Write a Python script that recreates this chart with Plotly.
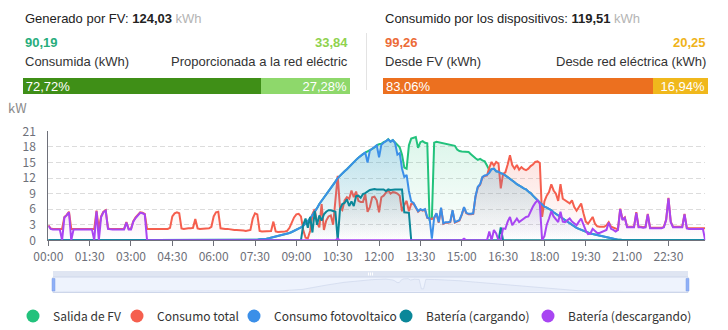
import plotly.graph_objects as go

W, H = 728, 330
HEAD_FONT = "Arial, Liberation Sans, sans-serif"
CHART_FONT = "Microsoft YaHei, Noto Sans CJK SC, sans-serif"


def px(x):
    return x / W


def py(y):
    return 1 - y / H


# ---- header totals (kWh) ----
pv_generated = 124.03
pv_consumed = 90.19
pv_to_grid = 33.84
load_total = 119.51
load_from_pv = 99.26
load_from_grid = 20.25

# ---- time axis: 5-minute samples, 00:00 .. 23:50 ----
times = [f"{m // 60:02d}:{m % 60:02d}" for m in range(0, 24 * 60 - 5, 5)]
tick_labels = ["00:00", "01:30", "03:00", "04:30", "06:00", "07:30", "09:00", "10:30",
               "12:00", "13:30", "15:00", "16:30", "18:00", "19:30", "21:00", "22:30"]

series_names = ["Salida de FV", "Consumo total", "Consumo fotovoltaico",
                "Batería (cargando)", "Batería (descargando)"]

# ---- power series (kW), one row per hour ----
pv_output = [
    0, 0, 0, 0, 0, 0, 0, 0, 0, 0, 0, 0,
    0, 0, 0, 0, 0, 0, 0, 0, 0, 0, 0, 0,
    0, 0, 0, 0, 0, 0, 0, 0, 0, 0, 0, 0,
    0, 0, 0, 0, 0, 0, 0, 0, 0, 0, 0, 0,
    0, 0, 0, 0, 0, 0, 0, 0, 0, 0, 0, 0,
    0, 0, 0, 0, 0, 0, 0, 0, 0, 0, 0, 0,
    0, 0, 0, 0, 0, 0, 0, 0, 0, 0, 0, 0,
    0, 0, 0, 0, 0, 0, 0, 0.1, 0.2, 0.2, 0.3, 0.3,
    0.4, 0.5, 0.6, 0.8, 0.9, 1.0, 1.1, 1.2, 1.3, 1.4, 1.6, 1.8,
    2.1, 2.3, 2.5, 2.8, 3.2, 3.7, 4.2, 4.8, 5.4, 6.2, 7.0, 7.6,
    8.1, 8.7, 9.3, 9.9, 10.6, 11.3, 12.0, 12.5, 12.9, 13.3, 13.7, 14.2,
    14.6, 15.0, 15.5, 15.9, 16.3, 16.6, 16.9, 17.1, 17.3, 17.6, 17.9, 18.3,
    18.5, 18.6, 18.9, 19.1, 19.5, 19.0, 19.3, 18.8, 18.5, 17.9, 16.5, 14.0,
    13.8, 18.3, 19.6, 19.8, 19.9, 17.8, 18.9, 19.1, 18.8, 18.7, 4.0, 4.2,
    18.8, 19.0, 18.9, 18.7, 18.6, 18.5, 18.4, 18.3, 18.2, 18.2, 17.5, 17.2,
    17.1, 17.1, 17.1, 17.0, 16.6, 16.1, 15.8, 15.5, 15.7, 15.4, 15.2, 14.4,
    13.5, 13.7, 13.8, 13.3, 13.2, 12.9, 12.8, 12.5, 12.2, 11.9, 11.6, 11.2,
    10.8, 10.6, 10.3, 10.0, 9.8, 9.4, 9.1, 8.6, 8.1, 7.7, 7.3, 6.9,
    6.5, 6.3, 6.1, 5.8, 5.4, 5.1, 4.8, 4.5, 4.2, 3.9, 3.5, 3.2,
    2.9, 2.6, 2.4, 2.2, 2.0, 1.8, 1.6, 1.4, 1.3, 1.2, 1.1, 1.0,
    0.9, 0.8, 0.6, 0.5, 0.4, 0.3, 0.2, 0.1, 0.1, 0.1, 0, 0,
    0, 0, 0, 0, 0, 0, 0, 0, 0, 0, 0, 0,
    0, 0, 0, 0, 0, 0, 0, 0, 0, 0, 0, 0,
    0, 0, 0, 0, 0, 0, 0, 0, 0, 0, 0,
]

total_load = [
    2.9, 2.3, 2.2, 2.2, 2.2, 2.2, 2.2, 4.5, 4.9, 5.5, 2.2, 2.2,
    2.2, 2.2, 2.2, 2.2, 2.2, 2.2, 2.2, 2.2, 2.2, 5.7, 2.2, 4.6,
    5.5, 5.8, 2.3, 2.2, 2.2, 2.2, 2.2, 2.2, 2.2, 2.2, 3.5, 2.2,
    2.2, 3.7, 4.4, 4.9, 5.4, 5.3, 5.1, 2.2, 2.2, 2.2, 2.2, 2.2,
    2.2, 2.2, 2.1, 2.1, 2.2, 2.4, 4.6, 5.2, 5.4, 5.2, 2.3, 2.2,
    2.3, 2.3, 2.3, 2.4, 4.1, 2.3, 2.2, 2.2, 2.2, 2.2, 2.3, 2.6,
    4.6, 5.4, 5.5, 2.3, 2.2, 2.2, 2.2, 2.1, 2.0, 2.0, 2.0, 2.0,
    1.9, 1.9, 1.8, 1.9, 2.0, 4.2, 5.2, 5.0, 1.8, 1.7, 1.7, 1.7,
    1.7, 1.8, 3.6, 1.7, 1.6, 1.6, 1.6, 1.7, 1.8, 2.4, 3.4, 4.4,
    5.0, 5.1, 4.6, 2.0, 0.5, 0.4, 1.8, 5.0, 6.0, 3.4, 2.5, 7.0,
    2.0, 3.8, 4.6, 4.8, 3.0, 7.5, 12.4, 6.2, 5.8, 7.7, 8.3, 8.0,
    9.6, 8.3, 9.4, 7.6, 7.4, 7.4, 8.9, 5.5, 6.4, 8.3, 8.4, 7.7,
    5.4, 8.3, 8.6, 9.2, 9.6, 9.0, 9.3, 9.2, 9.0, 8.6, 5.6, 6.8,
    7.6, 5.6, 7.0, 7.1, 6.3, 5.5, 5.9, 5.7, 5.9, 4.3, 4.2, 4.1,
    4.3, 5.1, 3.4, 6.2, 3.2, 3.4, 3.4, 3.5, 5.7, 3.4, 3.6, 3.8,
    4.9, 6.3, 5.2, 5.0, 5.0, 5.1, 8.4, 10.2, 10.7, 12.1, 12.4, 12.5,
    14.0, 15.1, 14.4, 15.1, 14.8, 10.0, 12.8, 13.1, 14.6, 16.4, 14.5, 13.8,
    14.5, 13.6, 14.1, 13.7, 13.5, 13.8, 14.3, 14.6, 15.1, 15.2, 14.9, 4.5,
    7.5, 8.6, 9.3, 10.8, 9.6, 9.0, 7.6, 10.8, 8.0, 7.7, 7.4, 7.1,
    7.7, 6.4, 5.7, 6.4, 7.1, 5.2, 3.6, 3.2, 4.0, 4.5, 3.2, 2.7,
    2.6, 2.6, 2.6, 2.9, 3.5, 2.6, 2.4, 2.3, 2.1, 6.1, 4.0, 4.4,
    2.6, 2.6, 2.6, 2.6, 5.4, 2.6, 2.6, 2.5, 2.6, 5.1, 2.4, 2.4,
    2.4, 2.4, 2.4, 2.4, 2.6, 4.0, 8.2, 3.6, 2.6, 2.6, 2.6, 2.6,
    2.6, 5.1, 2.4, 2.3, 2.3, 2.3, 2.3, 2.3, 2.3, 2.3, 2.3,
]

pv_self_use = [
    0, 0, 0, 0, 0, 0, 0, 0, 0, 0, 0, 0,
    0, 0, 0, 0, 0, 0, 0, 0, 0, 0, 0, 0,
    0, 0, 0, 0, 0, 0, 0, 0, 0, 0, 0, 0,
    0, 0, 0, 0, 0, 0, 0, 0, 0, 0, 0, 0,
    0, 0, 0, 0, 0, 0, 0, 0, 0, 0, 0, 0,
    0, 0, 0, 0, 0, 0, 0, 0, 0, 0, 0, 0,
    0, 0, 0, 0, 0, 0, 0, 0, 0, 0, 0, 0,
    0, 0, 0, 0, 0, 0, 0, 0.1, 0.2, 0.2, 0.3, 0.3,
    0.4, 0.5, 0.6, 0.8, 0.9, 1.0, 1.1, 1.2, 1.3, 1.4, 1.6, 1.8,
    2.1, 2.3, 2.5, 2.8, 3.2, 3.7, 4.2, 4.8, 5.4, 6.2, 7.0, 7.6,
    8.1, 8.7, 9.3, 9.9, 10.6, 11.3, 12.0, 12.5, 12.9, 13.3, 13.7, 14.2,
    14.6, 15.0, 15.5, 15.9, 16.3, 16.6, 16.9, 15.0, 17.3, 17.6, 17.9, 18.3,
    16.0, 18.4, 18.8, 19.1, 19.4, 19.0, 19.3, 18.7, 16.5, 16.8, 13.8, 12.2,
    12.6, 9.5, 7.5, 7.2, 6.4, 5.6, 6.0, 5.8, 6.0, 4.4, 4.2, 0.3,
    4.4, 5.2, 3.5, 6.3, 3.3, 3.5, 3.5, 3.6, 5.8, 3.5, 3.7, 3.9,
    5.0, 6.4, 5.3, 5.1, 5.1, 5.2, 8.5, 10.3, 10.8, 12.2, 12.5, 12.6,
    13.0, 13.7, 13.8, 13.3, 13.2, 12.9, 12.8, 12.5, 12.2, 11.9, 11.6, 11.2,
    10.8, 10.6, 10.3, 10.0, 9.8, 9.4, 9.1, 8.6, 8.1, 7.7, 7.3, 6.9,
    6.5, 6.3, 6.1, 5.8, 5.4, 5.1, 4.8, 4.5, 4.2, 3.9, 3.5, 3.2,
    2.9, 2.6, 2.4, 2.2, 2.0, 1.8, 1.6, 1.4, 1.3, 1.2, 1.1, 1.0,
    0.9, 0.8, 0.6, 0.5, 0.4, 0.3, 0.2, 0.1, 0.1, 0.1, 0, 0,
    0, 0, 0, 0, 0, 0, 0, 0, 0, 0, 0, 0,
    0, 0, 0, 0, 0, 0, 0, 0, 0, 0, 0, 0,
    0, 0, 0, 0, 0, 0, 0, 0, 0, 0, 0,
]

battery_charge = [
    0, 0, 0, 0, 0, 0, 0, 0, 0, 0, 0, 0,
    0, 0, 0, 0, 0, 0, 0, 0, 0, 0, 0, 0,
    0, 0, 0, 0, 0, 0, 0, 0, 0, 0, 0, 0,
    0, 0, 0, 0, 0, 0, 0, 0, 0, 0, 0, 0,
    0, 0, 0, 0, 0, 0, 0, 0, 0, 0, 0, 0,
    0, 0, 0, 0, 0, 0, 0, 0, 0, 0, 0, 0,
    0, 0, 0, 0, 0, 0, 0, 0, 0, 0, 0, 0,
    0, 0, 0, 0, 0, 0, 0, 0, 0, 0, 0, 0,
    0, 0, 0, 0, 0, 0, 0, 0, 0, 0, 0, 0,
    0, 0, 0, 3.0, 4.2, 2.4, 4.5, 1.5, 5.6, 3.0, 4.8, 3.8,
    5.0, 5.5, 5.8, 5.8, 5.7, 5.5, 0, 6.0, 7.0, 7.2, 7.9, 6.6,
    7.5, 6.6, 8.5, 8.6, 8.2, 8.9, 9.1, 9.4, 9.7, 9.8, 9.9, 9.8,
    9.8, 9.8, 9.8, 9.5, 9.8, 9.7, 9.8, 9.8, 9.8, 9.8, 9.8, 5.4,
    5.3, 5.3, 0, 0, 0, 0, 0, 0, 0, 0, 0, 0,
    0, 0, 0, 0, 0, 0, 0, 0, 0, 0, 0, 0,
    0, 0, 0, 0, 0, 0, 0, 0, 0, 0, 0, 0,
    0, 0, 0, 0, 0, 2.5, 0, 0, 0, 0, 0, 0,
    0, 0, 0, 0, 0, 0, 0, 0, 0, 0, 0, 0,
    0, 0, 0, 0, 0, 0, 0, 0, 0, 0, 0, 0,
    0, 0, 0, 0, 0, 0, 0, 0, 0, 0, 0, 0,
    0, 0, 0, 0, 0, 0, 0, 0, 0, 0, 0, 0,
    0, 0, 0, 0, 0, 0, 0, 0, 0, 0, 0, 0,
    0, 0, 0, 0, 0, 0, 0, 0, 0, 0, 0, 0,
    0, 0, 0, 0, 0, 0, 0, 0, 0, 0, 0,
]

battery_discharge = [
    2.8, 2.2, 2.1, 2.1, 2.1, 2.1, 0, 4.4, 4.8, 5.4, 0, 2.1,
    2.1, 2.1, 2.1, 2.1, 2.1, 2.1, 2.1, 2.1, 0, 5.6, 0, 4.5,
    5.4, 5.7, 2.2, 2.1, 2.1, 2.1, 2.1, 2.1, 2.1, 2.1, 3.4, 2.1,
    2.1, 3.6, 4.3, 4.8, 5.3, 5.2, 5.0, 0, 0, 0, 0, 0,
    0, 0, 0, 0, 0, 0, 0, 0, 0, 0, 0, 0,
    0, 0, 0, 0, 0, 0, 0, 0, 0, 0, 0, 0,
    0, 0, 0, 0, 0, 0, 0, 0, 0, 0, 0, 0,
    0, 0, 0, 0, 0, 0, 0, 0, 0, 0, 0, 0,
    0, 0, 0, 0, 0, 0, 0, 0, 0, 0, 0, 0,
    0, 0, 0, 0, 0, 0, 0, 0, 0, 0, 0, 0,
    0, 0, 0, 0, 0, 0, 0.3, 0, 0, 0, 0, 0,
    0, 0, 0, 0, 0, 0, 0, 0, 0, 0, 0, 0,
    0, 0, 0, 0, 0, 0, 0, 0, 0, 0, 0, 0,
    0, 0, 0, 0, 0, 0, 0, 0, 0, 0, 0, 0,
    0, 0, 0, 0, 0, 0, 0, 0, 0, 0, 0, 0,
    0, 0.3, 0, 0, 0, 0, 0, 0, 0, 0, 0, 0,
    1.7, 0, 2.0, 1.3, 0, 0, 2.3, 2.2, 3.6, 4.5, 2.9, 3.5,
    4.2, 3.5, 3.8, 4.2, 4.5, 4.6, 5.7, 6.5, 7.2, 7.7, 7.0, 0,
    0.8, 3.0, 4.2, 5.6, 4.6, 4.0, 3.5, 5.5, 3.6, 3.5, 3.8, 4.2,
    3.6, 3.2, 2.9, 3.6, 4.2, 3.0, 1.9, 1.2, 1.3, 2.2, 1.8, 1.4,
    1.4, 1.6, 1.8, 2.0, 3.4, 2.2, 2.0, 1.7, 2.0, 6.0, 3.9, 4.3,
    2.5, 2.5, 2.5, 2.5, 5.3, 2.5, 2.5, 2.4, 2.5, 5.0, 2.3, 2.3,
    2.3, 2.3, 2.3, 2.3, 2.5, 3.9, 8.1, 3.5, 2.5, 2.5, 2.5, 2.5,
    2.5, 5.0, 2.3, 2.2, 2.2, 2.2, 2.2, 2.2, 2.2, 2.2, 0,
]

series_values = [pv_output, total_load, pv_self_use, battery_charge, battery_discharge]
series_colors = ["#22c27c", "#f55f4e", "#3b8fe8", "#0b8799", "#a845f2"]
series_rgb = [(34, 194, 124), (245, 95, 78), (59, 143, 232), (11, 135, 153), (168, 69, 242)]
fill_alpha = [0.16, 0.18, 0.22, 0.10, 0.10]
# left edge of each legend entry (px)
legend_left = [13, 117, 234, 386, 528]


def fmt(v):
    return f"{v:.2f}".replace(".", ",")


fig = go.Figure()

# main area lines with vertical gradient fills
for name, vals, col, rgb, a in zip(series_names, series_values, series_colors, series_rgb, fill_alpha):
    r, g, b = rgb
    fig.add_trace(go.Scatter(
        x=times, y=vals, mode="lines", name=name,
        line=dict(color=col, width=2),
        fill="tozeroy",
        fillgradient=dict(type="vertical",
                          colorscale=[[0, f"rgba({r},{g},{b},0.0)"], [1, f"rgba({r},{g},{b},{a})"]]),
        showlegend=False, hoverinfo="skip",
    ))

# legend entries drawn as round dots, one legend box per entry
legend_layout = {}
for k, (name, col, lx) in enumerate(zip(series_names, series_colors, legend_left)):
    key = "legend" if k == 0 else f"legend{k + 1}"
    fig.add_trace(go.Scatter(
        x=[None], y=[None], mode="markers", name=name, legend=key,
        marker=dict(symbol="circle", size=13, color=col),
        showlegend=True, hoverinfo="skip",
    ))
    legend_layout[key] = dict(
        orientation="h", x=px(lx), y=py(316), xanchor="left", yanchor="middle",
        font=dict(size=12, color="#333", family=CHART_FONT),
        itemsizing="trace", bgcolor="rgba(0,0,0,0)", traceorder="normal",
    )

# header share bars
pv_share = [pv_consumed / pv_generated * 100, pv_to_grid / pv_generated * 100]
load_share = [load_from_pv / load_total * 100, load_from_grid / load_total * 100]
for shares, colors, xa, ya in [
    (pv_share, ["#3f8f17", "#8ed86b"], "x2", "y2"),
    (load_share, ["#ec701f", "#f0b81c"], "x3", "y3"),
]:
    for k, (s, c) in enumerate(zip(shares, colors)):
        fig.add_trace(go.Bar(
            x=[s], y=[0], orientation="h", xaxis=xa, yaxis=ya, width=1,
            marker=dict(color=c, line=dict(width=0)),
            text=[fmt(s) + "%"], textposition="inside",
            insidetextanchor="start" if k == 0 else "end",
            textfont=dict(color="white", size=13, family=HEAD_FONT),
            showlegend=False, hoverinfo="skip",
        ))

# data shadow inside the zoom slider
fig.add_trace(go.Scatter(
    x=times, y=pv_output, mode="lines", xaxis="x4", yaxis="y4",
    line=dict(color="#d2dbee", width=0.8), fill="tozeroy",
    fillcolor="rgba(210,219,238,0.25)", showlegend=False, hoverinfo="skip",
))

annotations = [
    dict(text=f"Generado por FV: <b>{fmt(pv_generated)}</b> <span style='color:#b4b4b4'>kWh</span>",
         x=px(23), y=py(18), font=dict(size=13, color="#222", family=HEAD_FONT)),
    dict(text=f"<b>{fmt(pv_consumed)}</b>", x=px(23), y=py(42.5),
         font=dict(size=13, color="#27ad7c", family=HEAD_FONT)),
    dict(text=f"<b>{fmt(pv_to_grid)}</b>", x=px(350), y=py(42.5), xanchor="right",
         font=dict(size=13, color="#8fd24e", family=HEAD_FONT)),
    dict(text="Consumida (kWh)", x=px(23), y=py(62),
         font=dict(size=13, color="#333", family=HEAD_FONT)),
    dict(text="Proporcionada a la red eléctric", x=px(350), y=py(62), xanchor="right",
         font=dict(size=13, color="#333", family=HEAD_FONT)),
    dict(text=f"Consumido por los dispositivos: <b>{fmt(load_total)}</b> <span style='color:#b4b4b4'>kWh</span>",
         x=px(383), y=py(18), font=dict(size=13, color="#222", family=HEAD_FONT)),
    dict(text=f"<b>{fmt(load_from_pv)}</b>", x=px(383), y=py(42.5),
         font=dict(size=13, color="#ec6b37", family=HEAD_FONT)),
    dict(text=f"<b>{fmt(load_from_grid)}</b>", x=px(708), y=py(42.5), xanchor="right",
         font=dict(size=13, color="#efb31a", family=HEAD_FONT)),
    dict(text="Desde FV (kWh)", x=px(383), y=py(62),
         font=dict(size=13, color="#333", family=HEAD_FONT)),
    dict(text="Desde red eléctrica (kWh)", x=px(708), y=py(62), xanchor="right",
         font=dict(size=13, color="#333", family=HEAD_FONT)),
    dict(text="kW", x=px(6), y=py(107), font=dict(size=13, color="#8a8a8a", family=CHART_FONT)),
]
for a in annotations:
    a.setdefault("xanchor", "left")
    a.update(xref="paper", yref="paper", yanchor="middle", showarrow=False)

shapes = [
    # divider between header blocks
    dict(type="line", xref="paper", yref="paper", x0=px(366.5), x1=px(366.5), y0=py(33), y1=py(90),
         line=dict(color="#e3e3e3", width=1)),
    # slider: move strip, body, handles, grip
    dict(type="rect", xref="paper", yref="paper", x0=px(53), x1=px(688), y0=py(277), y1=py(271),
         fillcolor="#dfe5f2", line=dict(width=0), layer="below"),
    dict(type="rect", xref="paper", yref="paper", x0=px(53), x1=px(688), y0=py(292.5), y1=py(277),
         fillcolor="#eef3fd", line=dict(color="#cdd6ea", width=1), layer="below"),
    dict(type="rect", xref="paper", yref="paper", x0=px(52), x1=px(55), y0=py(291), y1=py(278.5),
         fillcolor="#8fb0f7", line=dict(color="#7d9fe6", width=0.5)),
    dict(type="rect", xref="paper", yref="paper", x0=px(686), x1=px(689), y0=py(291), y1=py(278.5),
         fillcolor="#8fb0f7", line=dict(color="#7d9fe6", width=0.5)),
]
for gx in (368.5, 370.5, 372.5):
    shapes.append(dict(type="line", xref="paper", yref="paper", x0=px(gx), x1=px(gx),
                       y0=py(275.5), y1=py(272.5), line=dict(color="#ffffff", width=1)))

fig.update_layout(
    width=W, height=H,
    margin=dict(l=0, r=0, t=0, b=0, pad=0, autoexpand=False),
    paper_bgcolor="white", plot_bgcolor="rgba(0,0,0,0)",
    barmode="stack",
    uniformtext=dict(mode="show", minsize=12),
    font=dict(family=CHART_FONT),
    xaxis=dict(
        domain=[px(48.3), px(705.2)], type="category",
        categoryorder="array", categoryarray=times,
        range=[0, len(times) - 1], automargin=False,
        tickmode="array", tickvals=tick_labels, ticktext=tick_labels,
        ticks="outside", ticklen=5, tickcolor="#6e7079",
        showline=True, linecolor="#6e7079", linewidth=1,
        showgrid=False, zeroline=False, fixedrange=True,
        tickfont=dict(size=12, color="#6e7079", family=CHART_FONT),
    ),
    yaxis=dict(
        domain=[py(240.3), py(131.3)], range=[0, 21], tick0=0, dtick=3,
        showline=True, linecolor="#6e7079", linewidth=1, automargin=False,
        gridcolor="#dcdcdc", griddash="5px,3px", gridwidth=1,
        zeroline=False, ticks="", ticklabelstandoff=9, fixedrange=True,
        tickfont=dict(size=12, color="#6e7079", family=CHART_FONT),
    ),
    xaxis2=dict(domain=[px(22.7), px(350)], range=[0, 100], visible=False, fixedrange=True, automargin=False),
    yaxis2=dict(domain=[py(94), py(78)], range=[-0.5, 0.5], visible=False, fixedrange=True, automargin=False),
    xaxis3=dict(domain=[px(383), px(708)], range=[0, 100], visible=False, fixedrange=True, automargin=False),
    yaxis3=dict(domain=[py(94), py(78)], range=[-0.5, 0.5], visible=False, fixedrange=True, automargin=False),
    xaxis4=dict(domain=[px(54), px(687)], type="category", categoryorder="array",
                categoryarray=times, range=[0, len(times) - 1], visible=False, fixedrange=True,
                automargin=False),
    yaxis4=dict(domain=[py(291.5), py(278)], range=[0, 21], visible=False, fixedrange=True,
                automargin=False),
    annotations=annotations,
    shapes=shapes,
    showlegend=True,
    **legend_layout,
)

fig.write_html("out.html")
